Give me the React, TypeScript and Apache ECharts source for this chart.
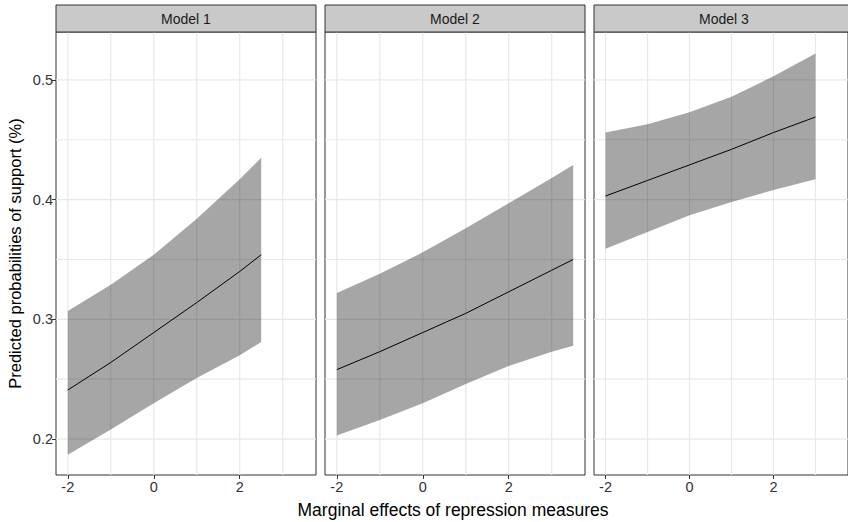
import React, { useEffect, useRef } from "react";
import * as echarts from "echarts";

const PANELS = ["Model 1", "Model 2", "Model 3"];

const X1 = [-2, -1, 0, 1, 2, 2.5];
const FIT1 = [0.241, 0.264, 0.289, 0.314, 0.34, 0.354];
const HI1 = [0.307, 0.329, 0.354, 0.384, 0.417, 0.435];
const LO1 = [0.187, 0.208, 0.23, 0.251, 0.27, 0.281];

const X2 = [-2, -1, 0, 1, 2, 3, 3.5];
const FIT2 = [0.258, 0.273, 0.289, 0.305, 0.323, 0.341, 0.35];
const HI2 = [0.322, 0.338, 0.356, 0.376, 0.397, 0.418, 0.429];
const LO2 = [0.203, 0.216, 0.23, 0.246, 0.261, 0.273, 0.278];

const X3 = [-2, -1, 0, 1, 2, 3];
const FIT3 = [0.403, 0.416, 0.429, 0.442, 0.456, 0.469];
const HI3 = [0.456, 0.463, 0.473, 0.486, 0.503, 0.522];
const LO3 = [0.359, 0.373, 0.387, 0.398, 0.408, 0.417];

const X_TICKS = [-2, 0, 2];
const Y_TICKS = [0.2, 0.3, 0.4, 0.5];
const X_GRID = [-2, -1, 0, 1, 2, 3];
const Y_GRID = [0.2, 0.25, 0.3, 0.35, 0.4, 0.45, 0.5];

const X_MIN = -2.275;
const X_MAX = 3.775;
const Y_MIN = 0.17;
const Y_MAX = 0.54;

const Y_TITLE = "Predicted probabilities of support (%)";
const X_TITLE = "Marginal effects of repression measures";

const FONT = "Liberation Sans, Arial, Helvetica, sans-serif";

const MODELS = [
  { x: X1, fit: FIT1, hi: HI1, lo: LO1 },
  { x: X2, fit: FIT2, hi: HI2, lo: LO2 },
  { x: X3, fit: FIT3, hi: HI3, lo: LO3 },
];

const LEFTS = [56, 325, 594];
const PW = 260;
const TOP = 32;
const PH = 443;
const STRIP_TOP = 5;

export default function App() {
  const ref = useRef<HTMLDivElement>(null);

  useEffect(() => {
    if (!ref.current) return;
    const chart = echarts.init(ref.current, null, { renderer: "svg" });

    const grids = LEFTS.map((l) => ({
      left: l,
      top: TOP,
      width: PW,
      height: PH,
      show: true,
      backgroundColor: "#ffffff",
      borderColor: "#333333",
      borderWidth: 1,
      containLabel: false,
    }));

    const xAxes = LEFTS.map((_, i) => ({
      type: "value",
      gridIndex: i,
      min: X_MIN,
      max: X_MAX,
      axisLine: { show: false, onZero: false },
      splitLine: { show: false },
      axisTick: {
        show: true,
        customValues: X_TICKS,
        length: 4,
        lineStyle: { color: "#333333", width: 1 },
      },
      axisLabel: {
        show: true,
        customValues: X_TICKS,
        margin: 4,
        color: "#333333",
        fontSize: 14.5,
        fontFamily: FONT,
      },
    }));

    const yAxes = LEFTS.map((_, i) => ({
      type: "value",
      gridIndex: i,
      min: Y_MIN,
      max: Y_MAX,
      axisLine: { show: false, onZero: false },
      splitLine: { show: false },
      axisTick: {
        show: i === 0,
        customValues: Y_TICKS,
        length: 4,
        lineStyle: { color: "#333333", width: 1 },
      },
      axisLabel: {
        show: i === 0,
        customValues: Y_TICKS,
        margin: 3,
        color: "#333333",
        fontSize: 14.5,
        fontFamily: FONT,
        formatter: (v: number) => v.toFixed(1),
      },
    }));

    const series: any[] = [];
    MODELS.forEach((m, i) => {
      series.push({
        type: "custom",
        xAxisIndex: i,
        yAxisIndex: i,
        silent: true,
        z: 0,
        clip: false,
        data: [
          ...X_GRID.map((v) => [v, 0]),
          ...Y_GRID.map((v) => [v, 1]),
        ],
        renderItem: (_p: any, api: any) => {
          const v = api.value(0);
          const o = api.value(1);
          const a = o === 0 ? api.coord([v, Y_MIN]) : api.coord([X_MIN, v]);
          const b = o === 0 ? api.coord([v, Y_MAX]) : api.coord([X_MAX, v]);
          return {
            type: "line",
            shape: { x1: a[0], y1: a[1], x2: b[0], y2: b[1] },
            style: { stroke: "#e8e8e8", lineWidth: 1.2 },
          };
        },
      });
      series.push({
        type: "custom",
        xAxisIndex: i,
        yAxisIndex: i,
        silent: true,
        z: 2,
        data: [[m.x[0], m.lo[0]]],
        renderItem: (_p: any, api: any) => {
          const pts: number[][] = [];
          m.x.forEach((xv, k) => pts.push(api.coord([xv, m.hi[k]])));
          for (let k = m.x.length - 1; k >= 0; k--) {
            pts.push(api.coord([m.x[k], m.lo[k]]));
          }
          return {
            type: "polygon",
            shape: { points: pts },
            style: { fill: "rgba(0,0,0,0.35)", stroke: "none" },
          };
        },
      });
      series.push({
        type: "line",
        xAxisIndex: i,
        yAxisIndex: i,
        z: 3,
        data: m.x.map((xv, k) => [xv, m.fit[k]]),
        showSymbol: false,
        symbol: "none",
        lineStyle: { color: "#000000", width: 1 },
        silent: true,
      });
    });

    const graphics: any[] = [];
    LEFTS.forEach((l, i) => {
      graphics.push({
        type: "rect",
        shape: { x: l, y: STRIP_TOP, width: PW, height: TOP - STRIP_TOP },
        style: { fill: "#c9c9c9", stroke: "#333333", lineWidth: 1 },
        z: 10,
      });
      graphics.push({
        type: "text",
        x: l + PW / 2,
        y: STRIP_TOP + (TOP - STRIP_TOP) / 2,
        style: {
          text: PANELS[i],
          fill: "#1a1a1a",
          fontSize: 14,
          fontFamily: FONT,
          align: "center",
          verticalAlign: "middle",
        },
        z: 11,
      });
    });
    graphics.push({
      type: "text",
      x: 15,
      y: TOP + PH / 2,
      rotation: Math.PI / 2,
      style: {
        text: Y_TITLE,
        fill: "#000000",
        fontSize: 16.5,
        fontFamily: FONT,
        align: "center",
        verticalAlign: "middle",
      },
    });
    graphics.push({
      type: "text",
      x: 453,
      y: 510,
      style: {
        text: X_TITLE,
        fill: "#000000",
        fontSize: 17.5,
        fontFamily: FONT,
        align: "center",
        verticalAlign: "middle",
      },
    });

    chart.setOption({
      animation: false,
      backgroundColor: "#ffffff",
      grid: grids,
      xAxis: xAxes,
      yAxis: yAxes,
      series,
      graphic: graphics,
    });

    return () => chart.dispose();
  }, []);

  return (
    <div
      ref={ref}
      style={{ position: "fixed", left: 0, top: 0, width: 848, height: 522 }}
    />
  );
}
